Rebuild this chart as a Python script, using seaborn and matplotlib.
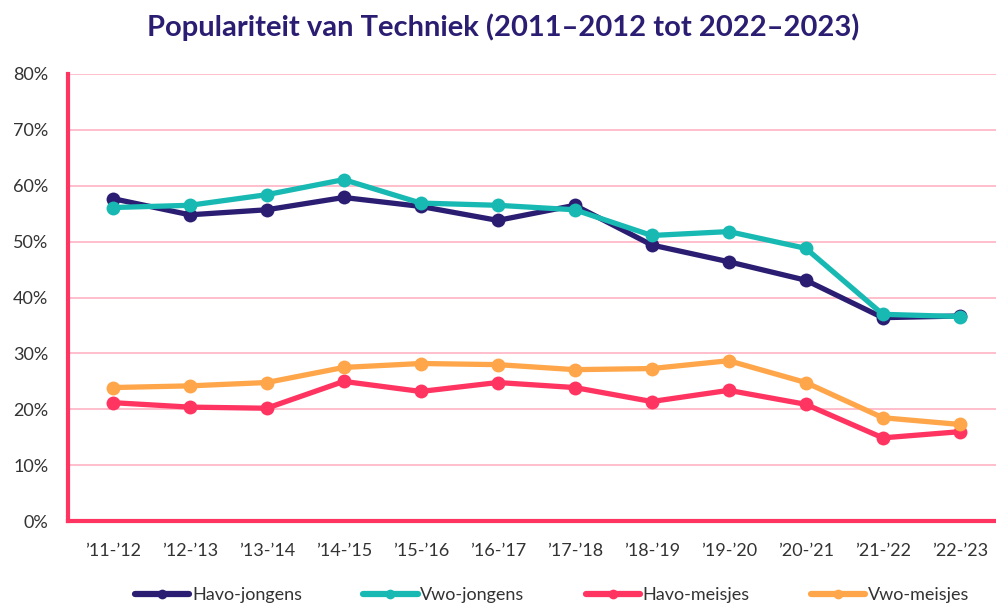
import numpy as np
import pandas as pd
import matplotlib
matplotlib.use("Agg")
import matplotlib.pyplot as plt
import seaborn as sns
from matplotlib.ticker import FuncFormatter

years = ["’11-’12", "’12-’13", "’13-’14", "’14-’15", "’15-’16", "’16-’17",
         "’17-’18", "’18-’19", "’19-’20", "’20-’21", "’21-’22", "’22-’23"]
havo_jongens = [57.7, 54.8, 55.7, 57.9, 56.3, 53.8, 56.5, 49.4, 46.4, 43.1, 36.4, 36.7]
vwo_jongens = [56.1, 56.5, 58.4, 61.1, 56.9, 56.5, 55.7, 51.1, 51.8, 48.8, 37.0, 36.6]
havo_meisjes = [21.2, 20.4, 20.2, 25.0, 23.2, 24.8, 23.9, 21.4, 23.4, 20.9, 14.9, 16.0]
vwo_meisjes = [23.9, 24.2, 24.8, 27.5, 28.2, 28.0, 27.1, 27.3, 28.7, 24.8, 18.5, 17.3]
series_names = ["Havo-jongens", "Vwo-jongens", "Havo-meisjes", "Vwo-meisjes"]
colors = ["#2b1d72", "#19b9b3", "#ff3460", "#ffa64a"]

rows = []
for name, vals in zip(series_names, [havo_jongens, vwo_jongens, havo_meisjes, vwo_meisjes]):
    for i, (yr, v) in enumerate(zip(years, vals)):
        rows.append({"idx": i, "Schooljaar": yr, "Percentage": v, "Groep": name})
df = pd.DataFrame(rows)

sns.set_theme(style="white")
plt.rcParams['font.family'] = ['Lato', 'DejaVu Sans']

fig = plt.figure(figsize=(9.96, 6.06), dpi=100)
ax = fig.add_axes([0.068, 0.140, 0.932, 0.738])

sns.lineplot(data=df, x="idx", y="Percentage", hue="Groep", hue_order=series_names,
             palette=colors, marker="o", markersize=10, markeredgewidth=0,
             linewidth=3.8, ax=ax, legend=True)

ax.set_ylim(0, 80)
ax.set_xlim(-0.584, 11.47)
ax.set_yticks(np.arange(0, 81, 10))
ax.yaxis.set_major_formatter(FuncFormatter(lambda v, p: f"{int(v)}%"))
ax.set_xticks(range(len(years)))
ax.set_xticklabels(years)
ax.tick_params(axis="both", length=0, labelsize=13, colors="#333333")
ax.tick_params(axis="x", pad=16)
ax.tick_params(axis="y", pad=14)
ax.set_xlabel("")
ax.set_ylabel("")

ax.grid(axis="y", color="#ffb3c3", linewidth=1.2)
ax.set_axisbelow(True)
for s in ["top", "right"]:
    ax.spines[s].set_visible(False)
for s in ["left", "bottom"]:
    ax.spines[s].set_color("#ff3460")
    ax.spines[s].set_linewidth(3)

fig.suptitle("Populariteit van Techniek (2011–2012 tot 2022–2023)", x=0.505, y=0.978,
             fontsize=21, fontweight="bold", color="#2b1d72")

handles, labels = ax.get_legend_handles_labels()
leg = ax.legend(handles, labels, loc="center", bbox_to_anchor=(0.522, -0.166),
                ncol=4, frameon=False, fontsize=13, handlelength=3.0, handletextpad=0.15,
                columnspacing=3.4, labelcolor="#333333")
for h in leg.legend_handles:
    h.set_markersize(7)
    h.set_linewidth(4.5)

fig.savefig("out.png", dpi=100)
